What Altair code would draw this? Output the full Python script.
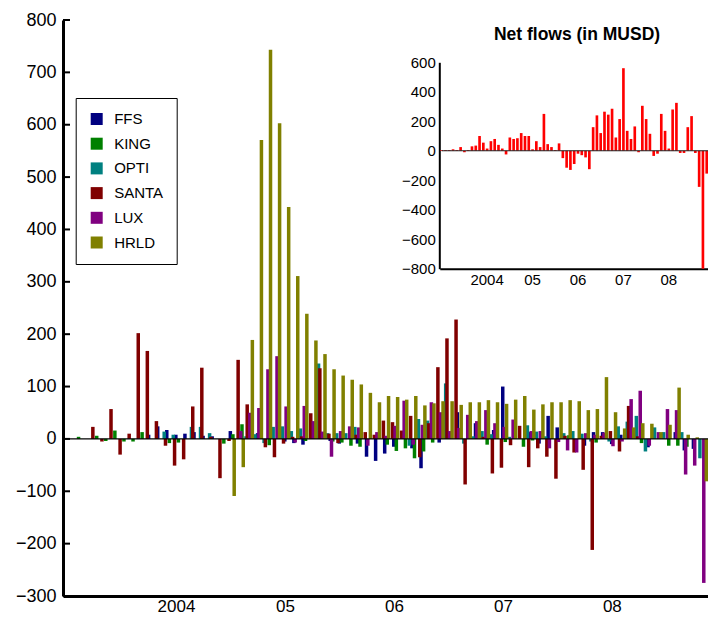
import altair as alt
import pandas as pd

# ---------------- data ----------------
MONTHS = [f"{y}-{m:02d}" for y in range(2003, 2009) for m in range(1, 13)]
SERIES = ["FFS", "KING", "OPTI", "SANTA", "LUX", "HRLD"]
COLORS = ["#000080", "#008000", "#008080", "#800000", "#800080", "#808000"]
OFFSET_ORDER = ["OPTI", "SANTA", "FFS", "LUX", "KING", "HRLD"]

FFS = [0, 0, 0, 0, 0, 0, 0, 0, 0, 8, 24, 17,
       8, 10, 13, 6, 5, 0, 15, 0, 0, 11, 0, 0,
       -5, -8, -11, 0, 0, -4, -9, 0, -9, -34, -42, -28,
       -15, 0, -18, -56, 0, -7, 0, 51, 0, 30, 0, 17,
       100, 0, 0, 13, -9, 44, 22, 0, 0, -13, 13, 13,
       -10, 8, 0, 0, -16, 0, 0, 13, -22, -19, 0, 0]
KING = [0, 4, 0, 6, -4, 16, -5, -5, 13, 0, 0, -8,
        -7, 0, 0, 0, 0, -9, 9, 28, 0, 0, -12, 0,
        0, 0, -4, 0, 0, -5, -7, -13, -15, 0, 0, -11,
        -23, -18, -37, -24, -7, 0, 0, 0, 0, 0, -11, 10,
        -6, 0, -15, -3, 0, 0, 0, 7, 0, 0, -7, 0,
        0, 0, 0, -8, 0, 0, -13, -13, -15, 0, 0, 0]
OPTI = [0, 0, 0, 0, 0, 0, 0, 0, 0, 0, 0, 14,
        8, 0, 23, 23, 11, 0, 0, 0, 5, 9, -8, 23,
        24, 15, 20, 0, 144, 11, 11, 11, 23, 0, 0, 0,
        0, 0, -13, 38, 35, 0, 106, 0, -9, 5, 15, 9,
        0, 4, 0, 26, 14, 5, 0, 11, 15, 10, -5, 0,
        -5, 24, 33, 44, -24, 22, 13, 0, 13, 0, -37, -30]
SANTA = [0, 0, 0, 23, -5, 57, -30, 10, 202, 168, 34, -13,
         -51, -39, 62, 136, 4, -75, -4, 151, 66, 0, -16, -35,
         -9, 4, 5, 49, 135, 10, -8, 0, 8, 13, 8, 35,
         32, 16, 44, -35, 30, 137, 192, 228, -87, 0, 4, -66,
         -55, -12, 25, -54, -18, -34, -76, 6, -26, -59, -212, 6,
         15, -24, 63, 5, 0, 0, 0, 0, 0, 0, 0, 0]
LUX = [0, 0, 0, 0, 0, 0, 0, 0, 0, 0, 0, 0,
       0, 0, 0, 0, 0, 0, 0, 15, 50, 59, 133, 158,
       62, -7, 63, 34, 14, -34, 15, 24, 22, -13, 13, 6,
       25, 73, -11, 27, 70, 51, 15, 21, 46, 34, 55, 30,
       23, 37, 0, 15, 15, -18, -6, -22, -26, 11, 8, 12,
       -14, -5, 76, 92, -13, 13, 57, 55, -68, -51, -275, 0]
HRLD = [0, 0, 0, 0, 0, 0, 0, 0, 0, 0, 0, 0,
        0, 0, 0, 0, 0, 0, -109, -54, 189, 571, 743, 603,
        443, 311, 239, 188, 162, 133, 121, 113, 104, 88, 70, 82,
        80, 75, 82, 64, 68, 72, 72, 65, 70, 70, 74, 70,
        67, 75, 82, 56, 66, 70, 70, 74, 72, 55, 57, 118,
        51, 20, 22, 30, 29, 13, 27, 98, 8, 3, -81, 0]

NET = [5, 5, 5, 10, 5, 25, -10, 5, 30, 35, 100, 55,
       15, 65, 80, 40, 15, -25, 90, 80, 85, 120, 100, 100,
       10, 65, 25, 250, 45, 25, 5, 50, -50, -115, -130, -90,
       -20, -30, -45, -125, 160, 240, 120, 265, 245, 285, 90, 215,
       560, 135, 80, 165, -10, 305, 215, 115, -35, -20, 250, 135,
       15, 280, 325, -15, -15, 160, 235, -15, -245, -800, -155, 0]

YEAR_TICKS = ["2004-01", "2005-01", "2006-01", "2007-01", "2008-01"]
YEAR_LABELS = ["2004", "05", "06", "07", "08"]
MAIN_Y_TICKS = list(range(-300, 801, 100))
INSET_Y_TICKS = list(range(-800, 601, 200))
INSET_TITLE = "Net flows (in MUSD)"

FONT = "Liberation Sans"

values = dict(FFS=FFS, KING=KING, OPTI=OPTI, SANTA=SANTA, LUX=LUX, HRLD=HRLD)
df = pd.DataFrame([
    {"month": MONTHS[i], "series": s, "value": values[s][i]}
    for s in SERIES for i in range(len(MONTHS))
])
net_df = pd.DataFrame({"month": MONTHS, "net": NET})

label_expr = ""
for t, l in zip(YEAR_TICKS, YEAR_LABELS):
    label_expr += f"datum.value == '{t}' ? '{l}' : "
label_expr += "''"

# ---------------- main chart ----------------
MONTH_W = 9.08
x_main = alt.X(
    "month:N", sort=MONTHS,
    scale=alt.Scale(domain=MONTHS, range=[0, MONTH_W * len(MONTHS)],
                    paddingInner=0, paddingOuter=0),
    axis=alt.Axis(values=YEAR_TICKS, labelExpr=label_expr, title=None,
                  tickSize=0, domainWidth=3, domainColor="black",
                  labelFontSize=17, labelPadding=2, labelAngle=0,
                  bandPosition=0, grid=False, labelFont=FONT),
)
y_main = alt.Y(
    "value:Q", stack=None,
    scale=alt.Scale(domain=[-300, 800], nice=False, zero=False),
    axis=alt.Axis(values=MAIN_Y_TICKS, title=None, tickSize=0,
                  domainWidth=3, domainColor="black", labelFontSize=18,
                  labelPadding=7, grid=False, labelFont=FONT),
)

bars = alt.Chart(df).mark_bar(width=3.5).encode(
    x=x_main,
    xOffset=alt.XOffset("series:N", sort=OFFSET_ORDER,
                        scale=alt.Scale(domain=OFFSET_ORDER, paddingInner=0,
                                        paddingOuter=0.53)),
    y=y_main,
    color=alt.Color(
        "series:N", sort=SERIES,
        scale=alt.Scale(domain=SERIES, range=COLORS),
        legend=alt.Legend(
            title=None, orient="none", legendX=12.7, legendY=78,
            direction="vertical", symbolType="square", symbolSize=144,
            symbolStrokeWidth=0, labelFontSize=15, labelFont=FONT,
            rowPadding=8.7, labelOffset=10, padding=13.5,
            strokeColor="black", fillColor="white",
        ),
    ),
)

zero_main = alt.Chart(pd.DataFrame({"value": [0]})).mark_rule(
    color="black", strokeWidth=1.2).encode(y=y_main)

tick_main = alt.Chart(pd.DataFrame({"value": MAIN_Y_TICKS})).mark_rule(
    color="black", strokeWidth=2).encode(
    y=y_main, x=alt.value(0), x2=alt.value(7))

main = alt.layer(bars, zero_main, tick_main)

# ---------------- inset ----------------
INSET_X0 = 376.8
INSET_STEP = 3.786
x_inset = alt.X(
    "month:N", sort=MONTHS,
    scale=alt.Scale(domain=MONTHS,
                    range=[INSET_X0, INSET_X0 + INSET_STEP * len(MONTHS)],
                    paddingInner=0.3, paddingOuter=0.15),
    axis=alt.Axis(orient="bottom", offset=-(576 - 248.7), values=YEAR_TICKS,
                  labelExpr=label_expr, title=None, tickSize=0,
                  domainWidth=2, domainColor="black", labelFontSize=15,
                  labelPadding=4, labelAngle=0, bandPosition=0, grid=False,
                  labelFont=FONT),
)
y_inset = alt.Y(
    "net:Q",
    scale=alt.Scale(domain=[-800, 600], range=[248.7, 42.3], nice=False,
                    zero=False),
    axis=alt.Axis(orient="left", offset=-376.3, values=INSET_Y_TICKS,
                  title=None, tickSize=0, domainWidth=2, domainColor="black",
                  labelFontSize=15, labelPadding=4, grid=False,
                  labelFont=FONT),
)

inset_bars = alt.Chart(net_df).mark_bar(color="#ff0000").encode(
    x=x_inset, y=y_inset)

zero_inset = alt.Chart(pd.DataFrame(
    {"month": [MONTHS[0]], "month2": [MONTHS[-1]], "net": [0]})).mark_rule(
    color="#202020", strokeWidth=1).encode(
    x=x_inset, x2="month2:N", y=y_inset)

inset = alt.layer(inset_bars, zero_inset)

title_layer = alt.Chart(pd.DataFrame({"t": [INSET_TITLE]})).mark_text(
    font=FONT, fontSize=17.5, fontWeight="bold", color="black",
    baseline="middle", align="center").encode(
    text="t:N", x=alt.value(514), y=alt.value(15))

chart = alt.layer(main, inset, title_layer).resolve_scale(
    x="independent", y="independent"
).properties(
    width=645, height=576,
    autosize=alt.AutoSizeParams(type="none"),
    padding={"left": 55, "top": 12, "right": 0, "bottom": 22},
).configure_view(stroke=None).configure_axis(labelColor="black")

chart.save("out.html", embed_options={"renderer": "svg", "actions": False})
